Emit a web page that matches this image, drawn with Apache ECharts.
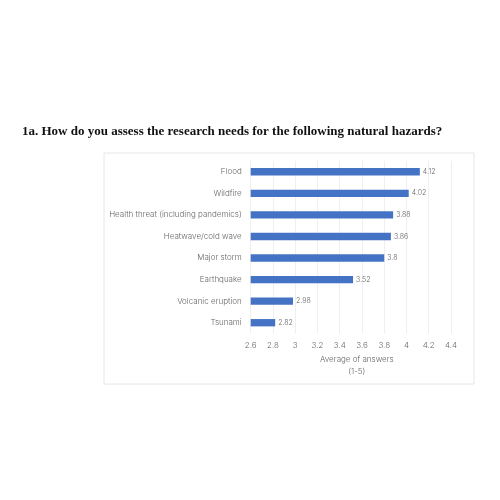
<!DOCTYPE html>
<html><head><meta charset="utf-8">
<script src="https://cdn.jsdelivr.net/npm/echarts@6/dist/echarts.min.js"></script>
<style>html,body{margin:0;padding:0;background:#fff}#c{width:500px;height:500px}</style>
</head><body><div id="c"></div>
<script>
const categories = ["Flood","Wildfire","Health threat (including pandemics)","Heatwave/cold wave","Major storm","Earthquake","Volcanic eruption","Tsunami"];
const values = [4.12,4.02,3.88,3.86,3.8,3.52,2.98,2.82];
const valueLabels = ["4.12","4.02","3.88","3.86","3.8","3.52","2.98","2.82"];
const titleText = "1a. How do you assess the research needs for the following natural hazards?";
const axisName = "Average of answers\n(1-5)";

const labelFont = {fontFamily:"Inter", fontWeight:300, fontSize:8, color:"#666666"};
const chart = echarts.init(document.getElementById('c'), null, {renderer:'canvas'});
chart.setOption({
  animation:false,
  backgroundColor:'#fff',
  title:{text:titleText,left:17,top:120,textStyle:{fontFamily:"Liberation Serif",fontWeight:'bold',fontSize:13,color:'#111'}},
  graphic:[{type:'rect',shape:{x:104,y:153,width:370,height:231},style:{fill:'none',stroke:'#e6e6e6',lineWidth:1},z:-1}],
  grid:{left:250.7,right:49,top:161,bottom:166.5,containLabel:false},
  xAxis:{type:'value',min:2.6,max:4.4,interval:0.2,
    axisLine:{show:false},axisTick:{show:false},
    splitLine:{show:true,lineStyle:{color:'#efefef',width:1}},
    axisLabel:Object.assign({margin:8,formatter:v=>String(+v.toFixed(1))},labelFont),
    name:axisName,nameLocation:'middle',nameGap:20,
    nameTextStyle:Object.assign({lineHeight:12,padding:[0,0,0,12]},labelFont)},
  yAxis:{type:'category',data:categories,inverse:true,
    axisLine:{show:false},axisTick:{show:false},
    axisLabel:Object.assign({margin:9},labelFont)},
  series:[{type:'bar',data:values,barWidth:'34%',itemStyle:{color:'#4472C4'},
    label:{show:true,position:'right',distance:3,formatter:p=>valueLabels[p.dataIndex],fontFamily:"Inter",fontWeight:300,fontSize:7,color:'#666666'}}]
});
</script></body></html>
